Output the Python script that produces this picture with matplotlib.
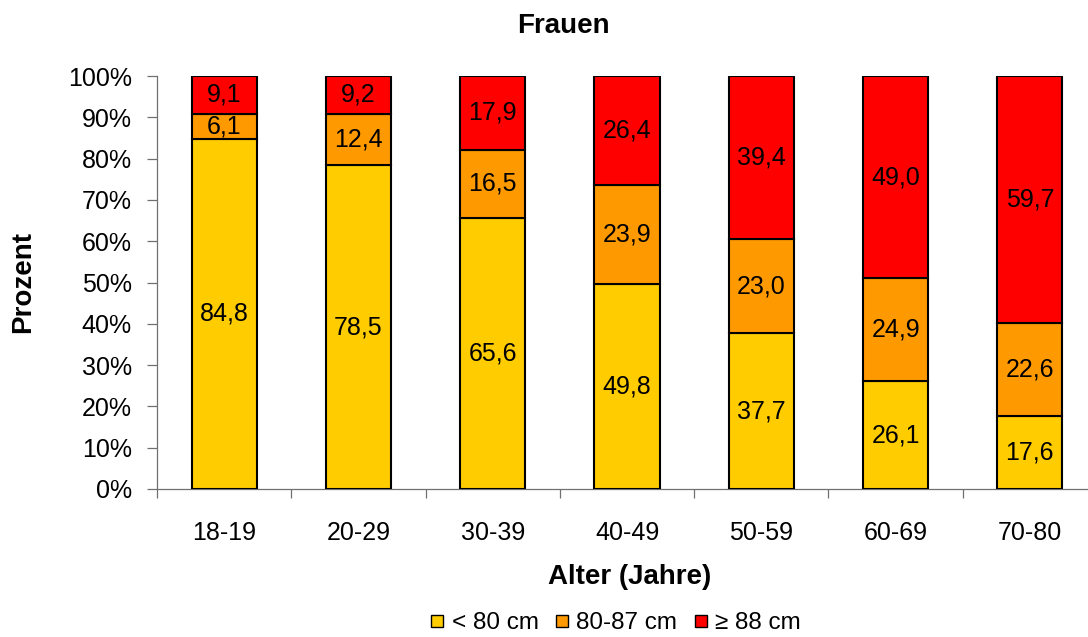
import matplotlib.pyplot as plt
import numpy as np
from matplotlib.lines import Line2D

plt.rcParams['font.family'] = ['Liberation Sans', 'DejaVu Sans']

groups = ['18-19', '20-29', '30-39', '40-49', '50-59', '60-69', '70-80']
under80 = [84.8, 78.5, 65.6, 49.8, 37.7, 26.1, 17.6]
mid = [6.1, 12.4, 16.5, 23.9, 23.0, 24.9, 22.6]
over88 = [9.1, 9.2, 17.9, 26.4, 39.4, 49.0, 59.7]
series_names = ['< 80 cm', '80-87 cm', '\u2265 88 cm']
colors = ['#FFCC00', '#FF9900', '#FF0000']

fig = plt.figure(figsize=(10.88, 6.37), dpi=100)
ax = fig.add_axes([157/1088, 1 - 489/637, 940/1088, 413/637])

raw = np.array([under80, mid, over88])
pct = raw / raw.sum(axis=0) * 100  # 100% stacked
x = np.arange(len(groups))
bottom = np.zeros(len(groups))
for i in range(3):
    ax.bar(x, pct[i], 0.485, bottom=bottom, color=colors[i], edgecolor='black', linewidth=1.5, zorder=3)
    for j in range(len(groups)):
        ax.text(x[j], bottom[j] + pct[i][j] / 2, ('%.1f' % raw[i][j]).replace('.', ','),
                ha='center', va='center', fontsize=18, zorder=4)
    bottom += pct[i]

ax.set_xlim(-0.5, len(groups) - 0.5)
ax.set_ylim(0, 100)
ax.set_yticks(np.arange(0, 101, 10))
ax.set_yticklabels(['%d%%' % v for v in range(0, 101, 10)], fontsize=18)
ax.set_xticks(x)
ax.set_xticklabels(groups, fontsize=18)
ax.set_xticks(np.arange(-0.5, len(groups), 1), minor=True)
ax.tick_params(axis='x', which='major', length=0, pad=23)
ax.tick_params(axis='x', which='minor', length=6.5, width=0.9, color='#707070')
ax.tick_params(axis='y', length=7, width=0.9, color='#707070', pad=11)
for s in ['top', 'right']:
    ax.spines[s].set_visible(False)
for s in ['left', 'bottom']:
    ax.spines[s].set_color('#707070')
    ax.spines[s].set_linewidth(0.9)

fig.text(563/1088, 1 - 26/637, 'Frauen', ha='center', va='center', fontsize=20, fontweight='bold')
fig.text(630/1088, 1 - 577/637, 'Alter (Jahre)', ha='center', va='center', fontsize=20, fontweight='bold')
fig.text(23/1088, 1 - 282/637, 'Prozent', ha='center', va='center', rotation=90, fontsize=20, fontweight='bold')

handles = [Line2D([], [], marker='s', linestyle='none', markersize=9, markerfacecolor=c,
                  markeredgecolor='black', markeredgewidth=1) for c in colors]
fig.legend(handles, series_names, loc='center', bbox_to_anchor=(613/1088, 1 - 623/637), ncol=3,
           frameon=False, fontsize=17.5, handletextpad=0.1, columnspacing=0.45, handlelength=1.0)

fig.savefig('out.png', dpi=100)
